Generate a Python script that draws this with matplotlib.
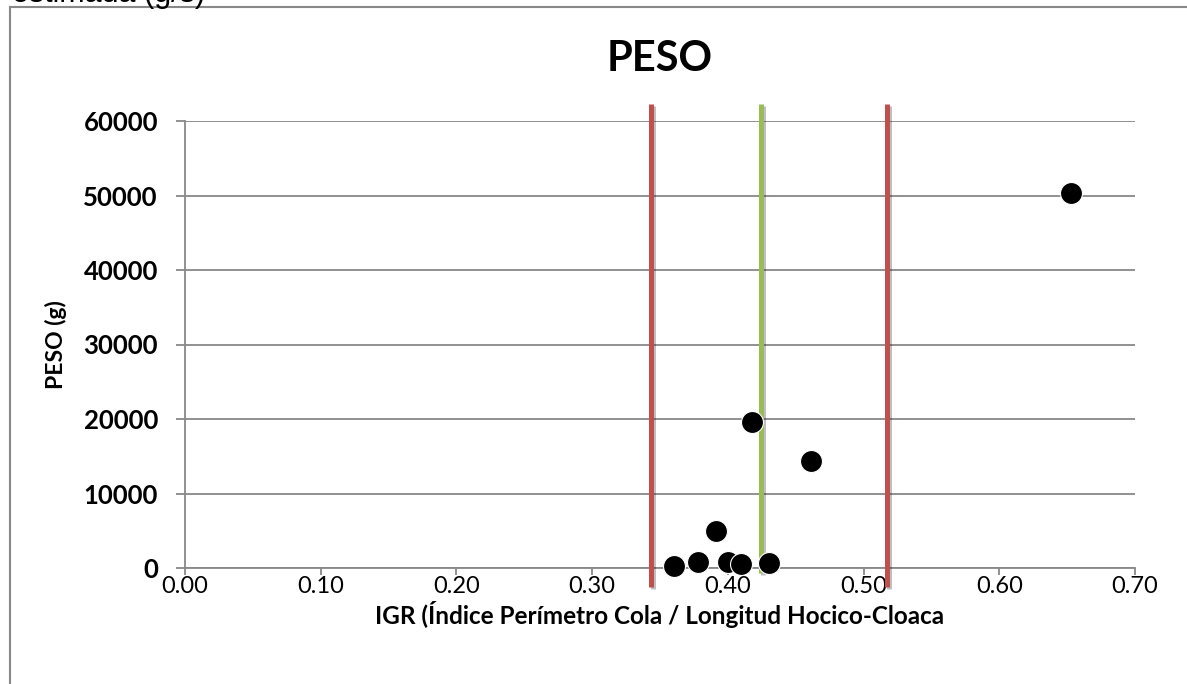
import numpy as np
import matplotlib
matplotlib.use("Agg")
from matplotlib import pyplot as plt
from matplotlib import patheffects as pe
from matplotlib.patches import Rectangle

# données
igr = [0.360, 0.378, 0.391, 0.400, 0.410, 0.430, 0.418, 0.461, 0.653]
peso = [300, 800, 5000, 800, 500, 700, 19600, 14400, 50300]

# lignes verticales de référence (x, y bas, y haut, couleur)
ref_x = [0.343, 0.4245, 0.517]
ref_y0 = [-2500, -700, -2500]
ref_y1 = [62300, 62300, 62300]
ref_col = ["#C0504D", "#9BBB59", "#C0504D"]

yticks = [0, 10000, 20000, 30000, 40000, 50000, 60000]
xticks = [0.0, 0.1, 0.2, 0.3, 0.4, 0.5, 0.6, 0.7]

GRIS = "#888888"
FONT = "Lato"

fig = plt.figure(figsize=(11.87, 6.84), dpi=100)
ax = fig.add_axes([185/1187, 1-568/684, 950/1187, 447/684])

# cadre du graphique (coupé à droite et en bas)
fig.patches.append(Rectangle((10/1187, -0.1), 1.2, 1-7/684+0.1, transform=fig.transFigure,
                             fill=False, edgecolor=GRIS, linewidth=1.5))
# texte coupé au-dessus
fig.text(12/1187, 1-2/684, "estimada (g/s)", fontsize=22, family="Liberation Sans",
         va="baseline", ha="left")

for x, y0, y1, col in zip(ref_x, ref_y0, ref_y1, ref_col):
    ax.plot([x, x], [y0, y1], color=col, linewidth=3.6, clip_on=False, zorder=3,
            solid_capstyle="butt",
            path_effects=[pe.SimpleLineShadow(offset=(1.5, -1.5), alpha=0.25), pe.Normal()])

ax.scatter(igr, peso, s=250, color="black", edgecolors="white", linewidths=0.8, zorder=4, clip_on=False)

ax.set_xlim(0, 0.7)
ax.set_ylim(0, 60000)
ax.set_xticks(xticks)
ax.set_yticks(yticks)
ax.set_xticklabels([f"{v:.2f}" for v in xticks], fontsize=17, family=FONT)
ax.set_yticklabels([str(v) for v in yticks], fontsize=18.5, family=FONT, fontweight="bold")
ax.yaxis.grid(True, color=GRIS, linewidth=1.3)
ax.set_axisbelow(True)
for s in ["top", "right"]:
    ax.spines[s].set_visible(False)
for s in ["left", "bottom"]:
    ax.spines[s].set_color(GRIS)
    ax.spines[s].set_linewidth(1.3)
ax.tick_params(axis="both", direction="out", color=GRIS, width=1.3)
ax.tick_params(axis="y", length=6.5, pad=13)
ax.tick_params(axis="x", length=5, pad=1)

ax.set_title("PESO", fontsize=30, fontweight="bold", family=FONT, pad=36)
ax.set_xlabel("IGR (Índice Perímetro Cola / Longitud Hocico-Cloaca", fontsize=17.5,
              fontweight="bold", family=FONT, labelpad=3)
ax.set_ylabel("PESO (g)", fontsize=16.5, fontweight="bold", family=FONT, labelpad=12)

fig.savefig("out.png", dpi=100)
